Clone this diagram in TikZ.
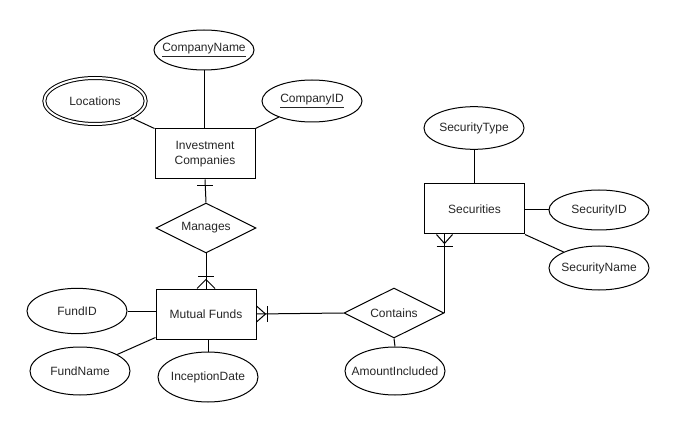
\documentclass[tikz,border=0pt]{standalone}
\usepackage{fontspec}
\setmainfont{Liberation Sans}
\usetikzlibrary{shapes.geometric,calc}
\newcommand{\fixw}[1]{\makebox[0pt]{#1}}
\begin{document}
\begin{tikzpicture}[x=0.75pt,y=-0.75pt,
  every node/.style={font=\fontsize{9}{11}\selectfont, text=black!85, inner sep=0pt},
  ent/.style={draw, line width=0.75pt, rectangle, minimum width=75pt, minimum height=37.5pt, align=center},
  attr/.style={draw, line width=0.75pt, ellipse, minimum width=75pt},
  rel/.style={draw, line width=0.75pt, diamond, aspect=2, minimum width=75pt, minimum height=37.5pt},
  conn/.style={line width=0.75pt, draw=black}]
\useasboundingbox (0,0) rectangle (676,428);
% entities
\node[ent] (ic) at (205,154) {Investment\\Companies};
\node[ent] (mf) at (206,314) {Mutual Funds};
\node[ent] (sec) at (474.5,209) {Securities};
% relationships
\node[rel] (man) at (206,228) {\fixw{Manages}};
\node[rel] (con) at (394,313) {\fixw{Contains}};
% attributes
\node[attr, minimum height=30pt] (cname) at (204,50) {\fixw{\underline{CompanyName}}};
\node[attr, minimum height=34.5pt, minimum width=76pt, double, double distance=1.5pt] (loc) at (95,101) {\fixw{Locations}};
\node[attr, minimum height=31.5pt] (cid) at (312,101) {\fixw{\underline{CompanyID}}};
\node[attr, minimum height=32pt] (stype) at (474,128) {\fixw{SecurityType}};
\node[attr, minimum height=30pt] (sid) at (599,210) {\fixw{SecurityID}};
\node[attr, minimum height=33pt] (sname) at (599,268) {\fixw{SecurityName}};
\node[attr, minimum height=34pt] (fid) at (77,311) {\fixw{FundID}};
\node[attr, minimum height=36pt] (fname) at (80,371) {\fixw{FundName}};
\node[attr, minimum height=37.5pt] (incep) at (208,377) {\fixw{InceptionDate}};
\node[attr, minimum height=36pt] (amt) at (395,371) {\fixw{AmountIncluded}};
% attribute lines
\draw[conn] (cname.south) -- (cname.south |- ic.north);
\draw[conn] (loc) -- (ic.north west);
\draw[conn] (cid) -- (ic.north east);
\draw[conn] (stype.south) -- (stype.south |- sec.north);
\draw[conn] (sec.east |- sid.west) -- (sid.west);
\draw[conn] (sec.south east) -- (sname);
\draw[conn] (fid.east) -- (fid.east -| mf.west);
\draw[conn] (fname) -- ($(mf.south west)+(0,-2)$);
\draw[conn] (incep.north) -- (incep.north |- mf.south);
\draw[conn] (amt.north) -- (con.south);
% relationship lines
\draw[conn] (ic.south) -- (man.north);
\draw[conn] ($(ic.south)+(-8,6)$) -- ($(ic.south)+(8,6)$);
\draw[conn] (man.south) -- (mf.north);
\draw[conn] ($(mf.north)+(-9,0)$) -- ($(mf.north)+(0,-9)$) -- ($(mf.north)+(9,0)$);
\draw[conn] ($(mf.north)+(-8,-12)$) -- ($(mf.north)+(8,-12)$);
\draw[conn] (mf.east) -- (con.west);
\draw[conn] ($(mf.east)+(0,-8)$) -- ($(mf.east)+(9,0)$) -- ($(mf.east)+(0,8)$);
\draw[conn] ($(mf.east)+(11,-8)$) -- ($(mf.east)+(11,8)$);
\coordinate (sb) at (con.east |- sec.south);
\draw[conn] (con.east) -- (sb);
\draw[conn] ($(sb)+(-8,0)$) -- ($(sb)+(0,9)$) -- ($(sb)+(8,0)$);
\draw[conn] ($(sb)+(-8,12)$) -- ($(sb)+(8,12)$);
\end{tikzpicture}
\end{document}
